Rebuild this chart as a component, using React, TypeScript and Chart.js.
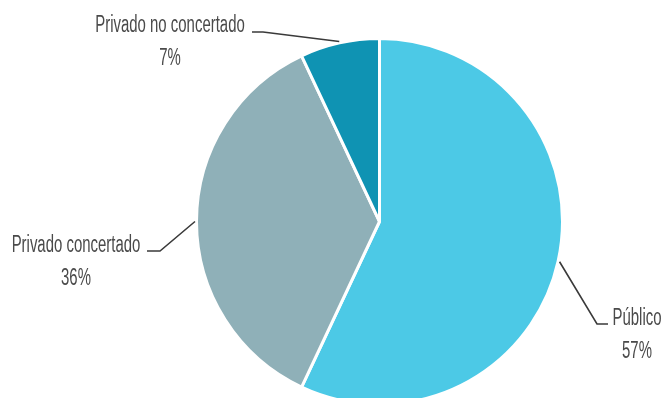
import React, { useEffect, useRef } from "react";
import { Chart, registerables } from "chart.js";

Chart.register(...registerables);

const categories = ["Público", "Privado concertado", "Privado no concertado"];
const values = [57, 36, 7];
const percentLabels = ["57%", "36%", "7%"];
const colors = ["#4CC9E6", "#8FB0B8", "#0F93B3"];

// label layout: elbow point, end of horizontal segment, text anchor (center x, first baseline)
const labelLayout = [
  { elbow: [597, 324], end: [608, 324], text: [637, 325] },
  { elbow: [160, 251], end: [147, 251], text: [76, 252] },
  { elbow: [263, 32], end: [252, 32], text: [170, 32] },
];

const leaderPlugin = {
  id: "leaders",
  afterDatasetsDraw(chart: any) {
    const ctx = chart.ctx;
    const meta = chart.getDatasetMeta(0);
    ctx.save();
    ctx.font = '23px "Liberation Sans Narrow", "Liberation Sans", sans-serif';
    const scaleX = 49 / ctx.measureText("Público").width;
    meta.data.forEach((arc: any, i: number) => {
      const p = arc.getProps(["x", "y", "startAngle", "endAngle", "outerRadius"], true);
      const mid = (p.startAngle + p.endAngle) / 2;
      const r = p.outerRadius + 1.5;
      const sx = p.x + Math.cos(mid) * r;
      const sy = p.y + Math.sin(mid) * r;
      const L = labelLayout[i];
      ctx.strokeStyle = "#3a3a3a";
      ctx.lineWidth = 1.6;
      ctx.beginPath();
      ctx.moveTo(sx, sy);
      ctx.lineTo(L.elbow[0], L.elbow[1]);
      ctx.lineTo(L.end[0], L.end[1]);
      ctx.stroke();
      ctx.fillStyle = "#4a4a4a";
      ctx.textAlign = "center";
      ctx.textBaseline = "alphabetic";
      const lines = [categories[i], percentLabels[i]];
      lines.forEach((t, k) => {
        ctx.save();
        ctx.translate(L.text[0], L.text[1] + k * 33);
        ctx.scale(scaleX, 1);
        ctx.fillText(t, 0, 0);
        ctx.restore();
      });
    });
    ctx.restore();
  },
};

export default function App() {
  const ref = useRef<HTMLCanvasElement | null>(null);
  useEffect(() => {
    if (!ref.current) return;
    const chart = new Chart(ref.current, {
      type: "pie",
      data: {
        labels: categories,
        datasets: [
          {
            data: values,
            backgroundColor: colors,
            borderColor: "#ffffff",
            borderWidth: 3,
          },
        ],
      },
      options: {
        responsive: false,
        animation: false,
        layout: { padding: { left: 195, right: 101, top: 37, bottom: 0 } },
        plugins: {
          legend: { display: false },
          tooltip: { enabled: false },
        },
      },
      plugins: [leaderPlugin],
    });
    return () => chart.destroy();
  }, []);
  return (
    <div
      style={{
        position: "absolute",
        left: 0,
        top: 0,
        width: 665,
        height: 398,
        overflow: "hidden",
        background: "#fff",
      }}
    >
      <canvas ref={ref} width={665} height={406} style={{ display: "block" }} />
    </div>
  );
}
